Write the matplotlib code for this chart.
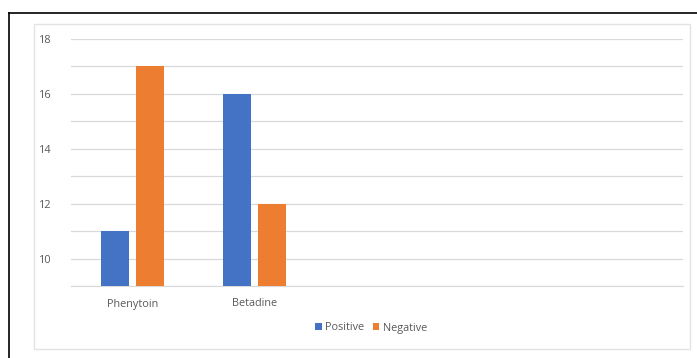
import numpy as np
import matplotlib.pyplot as plt
from matplotlib.patches import Rectangle
from matplotlib.lines import Line2D

plt.rcParams['font.family'] = ['Open Sans', 'DejaVu Sans']

categories = ['Phenytoin', 'Betadine', '', '', '']
positive = [11, 16, np.nan, np.nan, np.nan]
negative = [17, 12, np.nan, np.nan, np.nan]
y_ticks = [10, 12, 14, 16, 18]

fig = plt.figure(figsize=(6.97, 3.58), dpi=100)
W, H = 697, 358

# outer black frame (left and top only visible)
fig.add_artist(Line2D([9 / W, 9 / W], [0, 1 - 13 / H], color='black', lw=1.2, transform=fig.transFigure))
fig.add_artist(Line2D([9 / W, 1], [1 - 13 / H, 1 - 13 / H], color='black', lw=1.2, transform=fig.transFigure))
# chart area border
fig.add_artist(Rectangle((34 / W, 1 - 349 / H), (690 - 34) / W, (349 - 24) / H,
                         transform=fig.transFigure, fill=False, ec='#E3E3E3', lw=1.0))

ax = fig.add_axes([71 / W, 1 - 286 / H, (683 - 71) / W, (286 - 39) / H])
x = np.arange(len(categories))
w = 0.23
ax.bar(x - 0.143, positive, w, color='#4472C4', label='Positive', zorder=3)
ax.bar(x + 0.143, negative, w, color='#ED7D31', label='Negative', zorder=3)

ax.set_xlim(-0.5, len(categories) - 0.5)
ax.set_ylim(9, 18)
ax.set_yticks(np.arange(9, 19), minor=False)
ax.set_yticklabels([str(v) if v in y_ticks else '' for v in range(9, 19)])
ax.grid(axis='y', color='#D9D9D9', lw=0.9, zorder=0)
ax.set_xticks(x)
ax.set_xticklabels(categories)
ax.tick_params(axis='both', length=0, labelsize=7.8, colors='#595959')
ax.tick_params(axis='y', pad=14)
ax.tick_params(axis='x', pad=9)
for s in ['top', 'right', 'left']:
    ax.spines[s].set_visible(False)
ax.spines['bottom'].set_color('#D9D9D9')

fig.legend(loc='center', bbox_to_anchor=(371 / W, 1 - 328 / H), ncol=2, frameon=False,
           fontsize=7.8, labelcolor='#595959', handlelength=0.6, handleheight=0.6,
           handletextpad=0.3, columnspacing=0.8)

fig.savefig('out.png', dpi=100)
